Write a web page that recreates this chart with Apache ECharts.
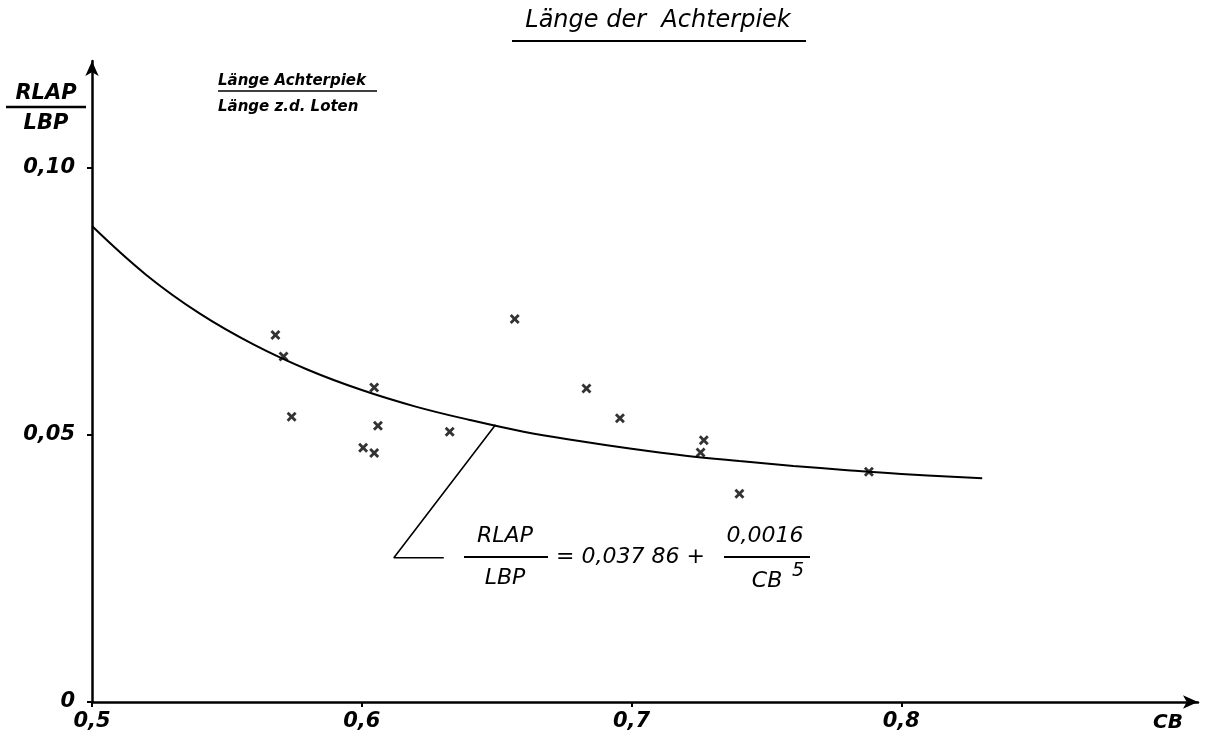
<!DOCTYPE html>
<html>
<head>
<meta charset="utf-8">
<title>Länge der Achterpiek</title>
<script src="https://cdn.jsdelivr.net/npm/echarts@6/dist/echarts.min.js"></script>
<style>
  html, body { margin: 0; padding: 0; background: #fff; }
  #chart { width: 1207px; height: 744px; }
</style>
</head>
<body>
<div id="chart"></div>
<script>
// Measured ships: block coefficient CB and relative aft-peak length RLAP/LBP
const cbValues   = [0.568, 0.571, 0.574, 0.6046, 0.606, 0.6005, 0.6046, 0.6326, 0.6567, 0.6833, 0.6957, 0.7268, 0.7256, 0.740, 0.788];
const rlapValues = [0.0687, 0.0647, 0.0534, 0.0589, 0.0517, 0.0476, 0.0466, 0.0506, 0.0717, 0.0587, 0.0531, 0.0490, 0.0467, 0.0390, 0.0431];

// Regression curve RLAP/LBP = 0,03786 + 0,0016 / CB^5
const curveCB   = [0.50, 0.52, 0.54, 0.56, 0.58, 0.60, 0.62, 0.64, 0.66, 0.68, 0.70, 0.72, 0.74, 0.76, 0.78, 0.80, 0.83];
const curveRLAP = [0.0891, 0.0800, 0.0727, 0.0669, 0.0622, 0.0584, 0.0553, 0.0528, 0.0506, 0.0489, 0.0474, 0.0461, 0.0451, 0.0442, 0.0434, 0.0427, 0.0419];

// Leader line from the curve to the formula
const leaderCB   = [0.6496, 0.6119, 0.6304];
const leaderRLAP = [0.0519, 0.0270, 0.0270];

// Tick positions
const xTicks = [0.5, 0.6, 0.7, 0.8];
const yTicks = [0, 0.05, 0.10];

const FONT = '"DejaVu Sans", "Liberation Sans", sans-serif';
const INK = '#000';

const zip = (a, b) => a.map((v, i) => [v, b[i]]);

const crossPath = 'path://M0,2 L2,0 L5,3 L8,0 L10,2 L7,5 L10,8 L8,10 L5,7 L2,10 L0,8 L3,5 Z';

function txt(text, x, y, font, align) {
  return {
    type: 'text',
    x: x, y: y,
    style: {
      text: text,
      fill: INK,
      font: font,
      align: align || 'left',
      verticalAlign: 'middle'
    }
  };
}

function line(x1, y1, x2, y2, w) {
  return {
    type: 'line',
    shape: { x1: x1, y1: y1, x2: x2, y2: y2 },
    style: { stroke: INK, lineWidth: w || 2 }
  };
}

const F_TITLE = 'italic 24px ' + FONT;
const F_FORM = 'italic 22px ' + FONT;
const F_BOLD = 'italic bold 21px ' + FONT;
const F_SMALL = 'italic bold 15px ' + FONT;

const chart = echarts.init(document.getElementById('chart'), null, { renderer: 'canvas' });

chart.setOption({
  backgroundColor: '#fff',
  animation: false,
  grid: { left: 92, right: 9, top: 61, bottom: 42 },
  xAxis: {
    type: 'value',
    min: 0.5,
    max: 0.91,
    interval: 0.1,
    axisLine: {
      show: true,
      onZero: false,
      symbol: ['none', 'arrow'],
      symbolSize: [10, 15],
      lineStyle: { color: INK, width: 2.5 }
    },
    axisTick: { show: true, customValues: xTicks, length: 5, lineStyle: { color: INK, width: 2 } },
    axisLabel: {
      customValues: xTicks,
      color: INK,
      fontFamily: FONT,
      fontStyle: 'italic',
      fontWeight: 'bold',
      fontSize: 21,
      margin: 9,
      formatter: v => v.toFixed(1).replace('.', ',')
    },
    splitLine: { show: false }
  },
  yAxis: {
    type: 'value',
    min: 0,
    max: 0.12,
    interval: 0.05,
    axisLine: {
      show: true,
      onZero: false,
      symbol: ['none', 'arrow'],
      symbolSize: [10, 15],
      lineStyle: { color: INK, width: 2.5 }
    },
    axisTick: { show: true, customValues: yTicks, length: 5, lineStyle: { color: INK, width: 2 } },
    axisLabel: {
      customValues: yTicks,
      color: INK,
      fontFamily: FONT,
      fontStyle: 'italic',
      fontWeight: 'bold',
      fontSize: 21,
      margin: 17,
      formatter: v => v === 0 ? '0' : v.toFixed(2).replace('.', ',')
    },
    splitLine: { show: false }
  },
  series: [
    {
      name: 'Regression',
      type: 'line',
      data: zip(curveCB, curveRLAP),
      smooth: 0.4,
      showSymbol: false,
      lineStyle: { color: INK, width: 2 },
      z: 2
    },
    {
      name: 'Leader',
      type: 'line',
      data: zip(leaderCB, leaderRLAP),
      showSymbol: false,
      lineStyle: { color: INK, width: 1.6 },
      z: 2
    },
    {
      name: 'Schiffe',
      type: 'scatter',
      data: zip(cbValues, rlapValues),
      symbol: crossPath,
      symbolSize: 10,
      itemStyle: { color: INK },
      z: 3
    }
  ],
  graphic: [
    // Title
    txt('Länge der  Achterpiek', 658, 21, F_TITLE, 'center'),
    line(512, 41, 806, 41, 2),
    // Explanation of the ratio
    txt('Länge Achterpiek', 218, 81, F_SMALL),
    line(218, 91, 377, 91, 1.6),
    txt('Länge z.d. Loten', 218, 107, F_SMALL),
    // Y axis name as a fraction
    txt('RLAP', 46, 94, F_BOLD, 'center'),
    line(6, 107, 86, 107, 2.5),
    txt('LBP', 46, 124, F_BOLD, 'center'),
    // X axis name
    txt('CB', 1168, 723, 'italic bold 20px ' + FONT, 'center'),
    // Formula
    txt('RLAP', 505, 536, F_FORM, 'center'),
    line(464, 557, 548, 557, 2),
    txt('LBP', 505, 578, F_FORM, 'center'),
    txt('= 0,037 86 +', 556, 557, F_FORM),
    txt('0,0016', 765, 536, F_FORM, 'center'),
    line(724, 557, 810, 557, 2),
    txt('CB', 767, 581, F_FORM, 'center'),
    txt('5', 792, 571, 'italic 19px ' + FONT)
  ]
});
</script>
</body>
</html>
